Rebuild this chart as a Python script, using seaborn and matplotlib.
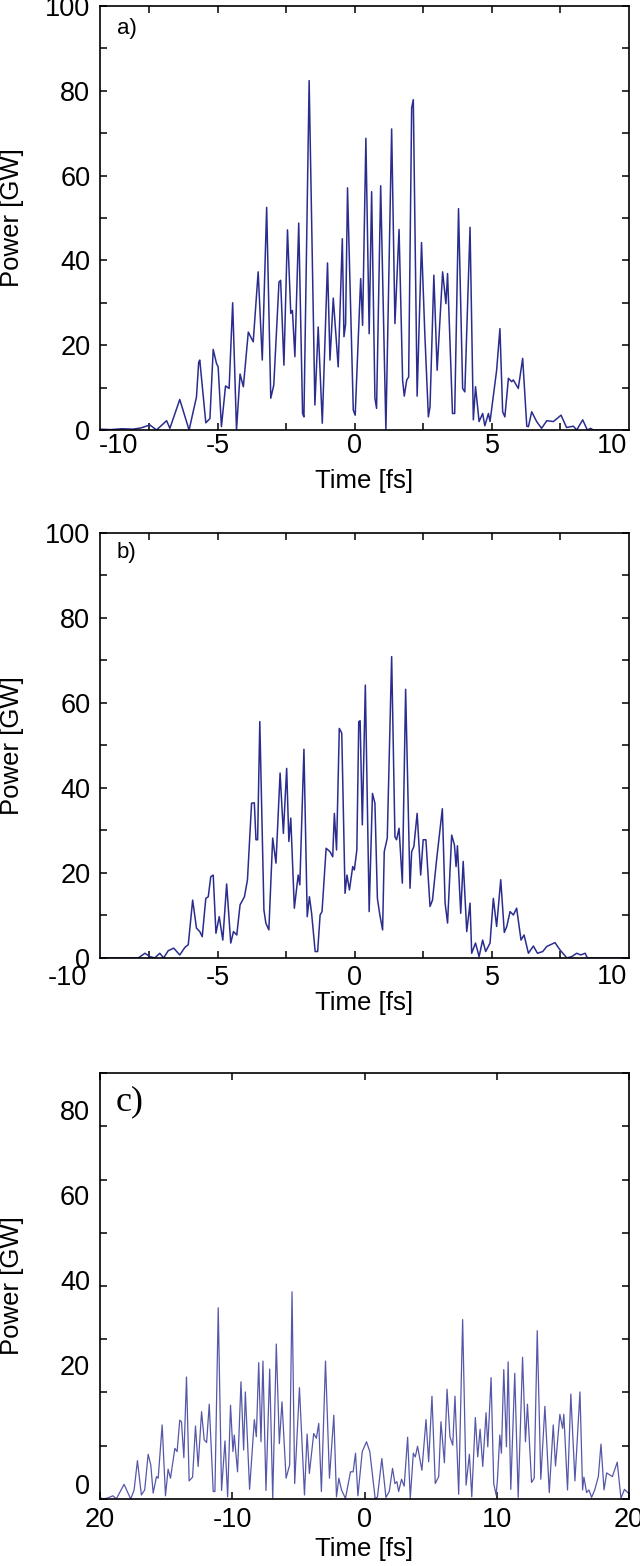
import matplotlib
matplotlib.use("Agg")
import matplotlib.pyplot as plt
import matplotlib.transforms as mtransforms
import numpy as np
import seaborn as sns

# panel a) -- pulse power vs time
time_a = [-9.3, -8.9, -8.5, -8.1, -7.8, -7.48, -7.24, -6.87, -6.75, -6.39,
          -6.05, -5.78, -5.70, -5.66, -5.44, -5.29, -5.17, -5.05, -4.99, -4.87,
          -4.72, -4.59, -4.46, -4.32, -4.19, -4.07, -3.89, -3.71, -3.53, -3.38,
          -3.22, -3.07, -2.96, -2.77, -2.71, -2.59, -2.46, -2.34, -2.28, -2.19,
          -2.05, -1.91, -1.86, -1.67, -1.46, -1.34, -1.19, -1.00, -0.91, -0.79,
          -0.61, -0.46, -0.40, -0.34, -0.27, -0.06, 0.01, 0.21, 0.28, 0.40,
          0.52, 0.61, 0.73, 0.79, 0.94, 1.13, 1.34, 1.46, 1.61, 1.74,
          1.80, 1.89, 1.96, 2.07, 2.13, 2.27, 2.43, 2.55, 2.68, 2.74,
          2.88, 3.00, 3.20, 3.32, 3.38, 3.56, 3.64, 3.78, 3.93, 4.01,
          4.20, 4.32, 4.40, 4.53, 4.66, 4.74, 4.87, 4.93, 5.17, 5.29,
          5.39, 5.47, 5.60, 5.72, 5.78, 5.96, 6.12, 6.27, 6.33, 6.45,
          6.63, 6.81, 7.00, 7.24, 7.52, 7.72, 7.97, 8.09, 8.31, 8.48,
          8.60, 8.70, 9.20, 10.0]
power_a = [0.2, 0.1, 0.3, 0.2, 0.5, 1.2, 0.0, 2.2, 0.4, 7.2,
           0.0, 7.8, 16.0, 16.5, 1.7, 2.7, 19.0, 15.7, 14.9, 0.8,
           10.4, 9.8, 30.0, 0.0, 13.2, 10.2, 23.1, 20.8, 37.3, 16.5,
           52.5, 7.5, 10.6, 34.9, 35.3, 15.3, 47.2, 27.5, 28.2, 17.3,
           48.8, 3.9, 3.1, 82.4, 5.9, 24.3, 1.6, 39.4, 16.5, 31.1,
           14.9, 45.1, 22.0, 25.0, 57.1, 4.7, 3.5, 35.7, 24.7, 68.8,
           22.7, 56.2, 7.5, 5.1, 57.6, 0.0, 71.0, 25.1, 47.3, 11.8,
           8.0, 11.8, 12.5, 76.0, 77.9, 8.0, 44.2, 22.7, 3.1, 5.5,
           36.5, 14.1, 37.3, 29.8, 36.9, 3.9, 3.9, 52.2, 9.8, 9.0,
           47.8, 2.4, 10.2, 2.0, 3.9, 1.0, 3.9, 2.0, 14.1, 23.9,
           4.3, 3.1, 12.2, 11.4, 11.8, 9.8, 16.9, 0.9, 0.8, 4.3,
           2.0, 0.4, 2.2, 2.0, 3.5, 0.6, 0.9, 0.0, 2.4, 0.0,
           0.4, 0.0, 0.0, 0.0]

# panel b)
time_b = [-9.3, -8.5, -7.9, -7.66, -7.48, -7.30, -7.12, -6.98, -6.81, -6.61,
          -6.39, -6.20, -6.08, -5.92, -5.78, -5.66, -5.57, -5.44, -5.35, -5.26,
          -5.17, -5.07, -4.95, -4.82, -4.68, -4.53, -4.43, -4.31, -4.19, -4.03,
          -3.92, -3.77, -3.67, -3.61, -3.55, -3.47, -3.32, -3.25, -3.14, -3.00,
          -2.88, -2.73, -2.61, -2.49, -2.41, -2.34, -2.21, -2.07, -2.01, -1.86,
          -1.74, -1.66, -1.58, -1.45, -1.36, -1.27, -1.20, -1.05, -0.91, -0.81,
          -0.75, -0.67, -0.57, -0.48, -0.36, -0.29, -0.20, -0.08, -0.02, 0.07,
          0.14, 0.19, 0.27, 0.38, 0.52, 0.64, 0.73, 0.82, 0.91, 1.01,
          1.07, 1.18, 1.34, 1.46, 1.52, 1.61, 1.73, 1.85, 2.01, 2.07,
          2.15, 2.27, 2.40, 2.49, 2.59, 2.74, 2.83, 2.98, 3.19, 3.29,
          3.38, 3.53, 3.63, 3.69, 3.74, 3.86, 3.95, 4.08, 4.20, 4.26,
          4.40, 4.53, 4.66, 4.77, 4.93, 5.05, 5.17, 5.32, 5.45, 5.54,
          5.66, 5.78, 5.90, 6.06, 6.17, 6.33, 6.51, 6.66, 6.85, 7.00,
          7.30, 7.48, 7.73, 7.91, 8.09, 8.24, 8.40, 8.48, 9.2, 10.0]
power_b = [0.0, 0.0, 0.0, 1.1, 0.3, 0.0, 1.1, 0.0, 1.7, 2.3,
           0.7, 2.5, 3.1, 13.6, 7.0, 6.2, 5.0, 14.0, 14.4, 19.1,
           19.5, 5.8, 9.7, 4.2, 17.4, 3.5, 6.2, 5.4, 12.5, 14.4,
           18.4, 36.4, 36.5, 27.8, 27.8, 55.6, 11.3, 8.2, 6.6, 28.2,
           22.3, 43.5, 29.3, 44.6, 27.4, 32.9, 11.7, 19.5, 17.2, 49.1,
           9.7, 14.4, 10.5, 1.5, 1.5, 10.1, 10.9, 25.8, 25.0, 23.8,
           34.0, 25.4, 54.0, 52.9, 15.2, 19.5, 16.0, 21.5, 20.7, 25.4,
           55.6, 55.8, 31.3, 64.2, 10.9, 38.7, 36.4, 14.0, 10.1, 6.6,
           25.0, 28.2, 70.9, 28.5, 27.8, 30.5, 17.6, 63.2, 16.4, 25.0,
           26.2, 34.0, 19.5, 27.8, 27.8, 12.1, 13.6, 23.1, 35.1, 12.9,
           8.2, 28.9, 26.6, 21.5, 26.4, 10.5, 22.7, 6.2, 12.9, 1.1,
           3.5, 0.3, 4.2, 1.5, 3.5, 14.0, 7.4, 18.4, 6.0, 7.4,
           10.9, 10.1, 11.7, 4.2, 5.4, 1.1, 2.8, 1.1, 1.5, 2.7,
           3.6, 1.9, 0.0, 0.3, 1.1, 0.7, 1.1, 0.0, 0.0, 0.0]

# panel c) -- longer window
time_c = [-20.0, -19.77, -19.4, -19.02, -18.77, -18.18, -17.68, -17.42, -17.17, -16.87,
          -16.62, -16.36, -16.16, -15.98, -15.73, -15.6, -15.3, -15.05, -14.85, -14.67,
          -14.34, -14.17, -13.97, -13.84, -13.66, -13.46, -13.26, -13.0, -12.78, -12.58,
          -12.32, -12.12, -11.94, -11.74, -11.44, -11.31, -11.06, -10.81, -10.55, -10.35,
          -10.13, -9.95, -9.85, -9.6, -9.34, -9.14, -9.01, -8.69, -8.33, -8.18,
          -8.0, -7.83, -7.68, -7.45, -7.17, -6.94, -6.67, -6.44, -6.24, -5.93,
          -5.66, -5.48, -5.28, -4.92, -4.54, -4.34, -4.17, -3.84, -3.64, -3.46,
          -3.26, -2.95, -2.65, -2.32, -2.12, -1.94, -1.74, -1.44, -1.06, -0.86,
          -0.68, -0.5, -0.17, 0.15, 0.4, 0.81, 0.98, 1.31, 1.62, 1.87,
          2.12, 2.3, 2.45, 2.58, 2.8, 3.0, 3.26, 3.46, 3.69, 3.84,
          4.01, 4.34, 4.65, 4.85, 5.1, 5.35, 5.61, 5.78, 6.04, 6.24,
          6.46, 6.67, 6.84, 7.12, 7.42, 7.68, 7.93, 8.11, 8.38, 8.56,
          8.74, 8.94, 9.19, 9.32, 9.57, 9.77, 9.95, 10.05, 10.23, 10.35,
          10.53, 10.73, 10.86, 11.06, 11.36, 11.62, 11.95, 12.17, 12.32, 12.63,
          12.83, 13.06, 13.33, 13.64, 13.97, 14.27, 14.44, 14.77, 14.98, 15.07,
          15.35, 15.6, 15.91, 16.29, 16.49, 16.59, 16.79, 16.97, 17.17, 17.42,
          17.68, 17.88, 18.11, 18.31, 18.74, 19.11, 19.39, 19.65, 19.95]
power_c = [0.3, 0.0, 0.2, 0.6, 0.0, 2.75, 0.0, 1.7, 7.2, 0.75,
           1.7, 8.4, 6.4, 1.1, 4.2, 3.9, 13.9, 0.6, 5.6, 3.9,
           9.5, 8.9, 14.8, 14.5, 7.75, 22.9, 3.4, 4.1, 13.7, 6.1,
           16.4, 11.1, 10.6, 17.8, 1.4, 1.4, 35.9, 1.6, 10.9, 0.4,
           17.6, 8.9, 12.0, 5.1, 22.0, 9.2, 20.1, 1.8, 14.9, 11.7,
           25.6, 10.75, 25.9, 1.6, 24.4, 0.1, 29.1, 10.4, 18.25, 3.9,
           6.4, 38.9, 2.9, 20.9, 0.75, 12.2, 4.8, 12.3, 11.4, 14.2,
           1.4, 25.9, 3.9, 15.75, 0.4, 3.9, 1.7, 0.1, 5.1, 5.1,
           8.6, 0.6, 8.9, 10.75, 8.9, 0.0, 0.4, 7.6, 0.3, 1.4,
           5.75, 2.9, 3.25, 1.4, 3.7, 2.4, 11.6, 0.1, 8.6, 7.9,
           9.9, 5.4, 14.9, 7.0, 19.3, 2.9, 4.2, 14.5, 6.8, 20.6,
           11.7, 10.1, 19.3, 0.9, 33.7, 2.6, 8.4, 0.4, 15.3, 7.9,
           13.1, 6.1, 16.2, 9.8, 22.8, 2.9, 0.75, 3.6, 12.0, 8.6,
           24.3, 9.8, 25.75, 1.8, 23.6, 0.3, 26.6, 10.75, 17.8, 3.1,
           3.9, 31.6, 3.7, 17.4, 1.2, 13.9, 6.2, 15.9, 13.25, 15.9,
           1.7, 19.7, 3.4, 20.1, 1.7, 4.1, 1.2, 1.7, 0.3, 1.8,
           4.2, 10.3, 1.7, 4.9, 4.2, 6.9, 0.1, 1.8, 1.1]

ab_xticks = [-7.5, -5, -2.5, 0, 2.5, 5, 7.5]
ab_xticklabels = ["", "-5", "", "0", "", "5", ""]
ab_yticks = list(range(0, 101, 10))
ab_yticklabels = ["0", "", "20", "", "40", "", "60", "", "80", "", "100"]
c_xticks = [-20, -10, 0, 10, 20]
c_xticklabels = ["20", "-10", "0", "10", "20"]
c_ylabels = ["0", "20", "40", "60", "80"]

sns.set_style("ticks")
plt.rcParams["font.family"] = ["Liberation Sans", "DejaVu Sans"]
plt.rcParams["axes.unicode_minus"] = False
for key in ("text.color", "axes.labelcolor", "xtick.color", "ytick.color"):
    plt.rcParams[key] = "black"

fig = plt.figure(figsize=(6.4, 15.66), dpi=100)
ax_a = fig.add_axes([0.15625, 0.7254, 0.8266, 0.2708])
ax_b = fig.add_axes([0.15625, 0.3883, 0.8266, 0.2714])
ax_c = fig.add_axes([0.15625, 0.0428, 0.8266, 0.2720])

dark = "#2b2d8e"
light = "#5557a8"

sns.lineplot(x=time_a, y=power_a, ax=ax_a, color=dark, linewidth=1.1)
sns.lineplot(x=time_b, y=power_b, ax=ax_b, color=dark, linewidth=1.1)
sns.lineplot(x=time_c, y=power_c, ax=ax_c, color=light, linewidth=0.9)

for ax in (ax_a, ax_b, ax_c):
    for s in ax.spines.values():
        s.set_visible(True)
        s.set_linewidth(1.2)
        s.set_color("black")
    ax.tick_params(direction="in", top=True, right=True, length=5, width=1.1,
                   labelsize=19.5, pad=7)
    ax.set_ylabel("Power [GW]", fontsize=18.5)
    ax.yaxis.set_label_coords(-0.143, 0.5)
    ax.set_xlabel("Time [fs]", fontsize=18.5)

for ax, lab, lx, ly in ((ax_a, "a)", 0.032, 0.972), (ax_b, "b)", 0.032, 0.978)):
    ax.set_xlim(-9.3, 10)
    ax.set_ylim(0, 100)
    ax.set_xticks(ab_xticks)
    ax.set_xticklabels(ab_xticklabels)
    ax.set_yticks(ab_yticks)
    ax.set_yticklabels(ab_yticklabels)
    ax.text(lx, ly, lab, transform=ax.transAxes, fontsize=16, va="top", ha="left")

ax_a.tick_params(axis="x", pad=2)
ax_b.tick_params(axis="x", pad=5)
ax_a.xaxis.set_label_coords(0.5, -0.092)
ax_b.xaxis.set_label_coords(0.5, -0.079)

# the edge labels of a) and b) sit off their tick marks in the original
ax_a.text(0.034, -0.006, "-10", transform=ax_a.transAxes, fontsize=19.5, va="top", ha="center")
ax_a.text(0.968, -0.006, "10", transform=ax_a.transAxes, fontsize=19.5, va="top", ha="center")
ax_b.text(-0.062, -0.016, "-10", transform=ax_b.transAxes, fontsize=19.5, va="top", ha="center")
ax_b.text(0.968, -0.014, "10", transform=ax_b.transAxes, fontsize=19.5, va="top", ha="center")

ax_c.set_xlim(-20, 20)
ax_c.set_ylim(0, 80)
ax_c.set_xticks(c_xticks)
ax_c.set_xticklabels(c_xticklabels)
ax_c.set_yticks(range(0, 81, 10))
ax_c.set_yticklabels([])
ax_c.tick_params(axis="x", pad=6)
ax_c.xaxis.set_label_coords(0.5, -0.09)
trans = mtransforms.blended_transform_factory(ax_c.transAxes, ax_c.transData)
for lab, yv in zip(c_ylabels, [2.3, 24.6, 40.6, 56.5, 72.5]):
    ax_c.text(-0.019, yv, lab, transform=trans, fontsize=19.5, va="center", ha="right")
ax_c.text(0.03, 0.97, "c)", transform=ax_c.transAxes, fontsize=26,
          family=["Liberation Serif", "DejaVu Serif"], va="top", ha="left")

fig.savefig("out.png", dpi=100)
